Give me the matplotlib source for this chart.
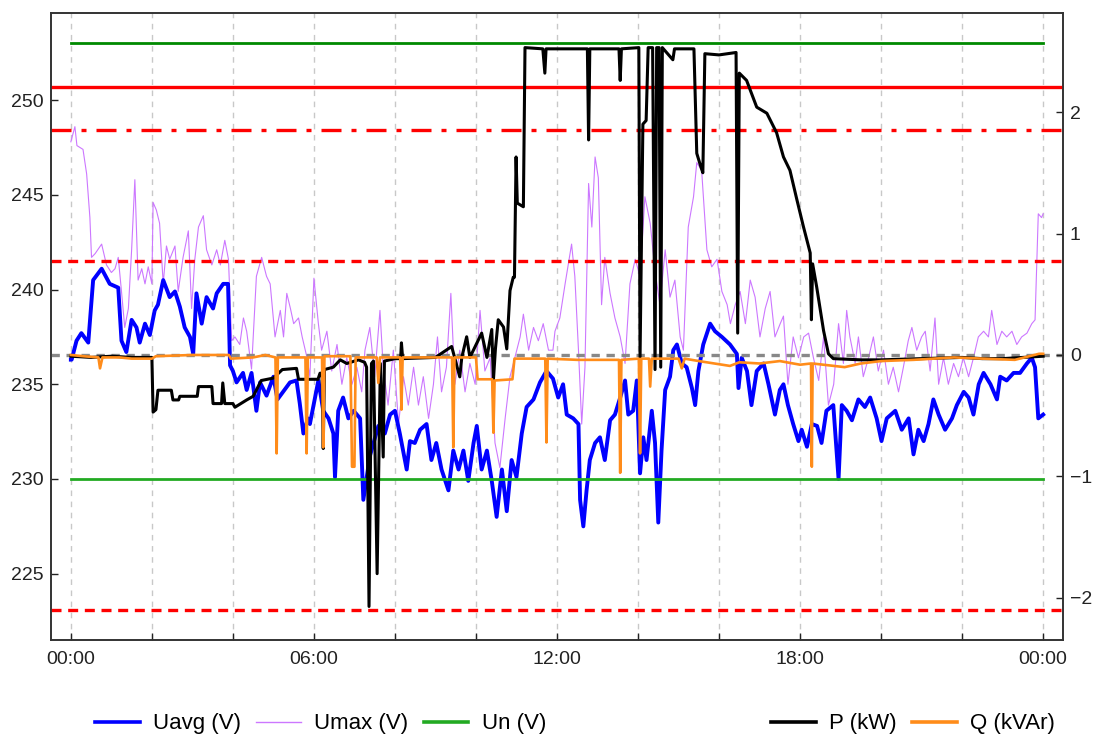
import matplotlib.pyplot as plt
from matplotlib.lines import Line2D

plt.rcParams['font.family'] = ['Liberation Sans', 'DejaVu Sans']

# Uavg (V): time in hours, value in volts
uavg_t = [0.0, 0.02, 0.14, 0.26, 0.43, 0.55, 0.76, 0.96, 1.17, 1.25, 1.37, 1.5, 1.62, 1.7, 1.83, 1.95,
          2.07, 2.15, 2.28, 2.44, 2.57, 2.69, 2.81, 2.94, 3.02, 3.1, 3.23, 3.35, 3.51, 3.6, 3.76, 3.88,
          3.93, 4.0, 4.09, 4.25, 4.34, 4.46, 4.58, 4.67, 4.83, 5.0, 5.1, 5.41, 5.57, 5.65, 5.74, 5.85,
          5.9, 6.02, 6.11, 6.23, 6.36, 6.48, 6.52, 6.6, 6.72, 6.85, 6.98, 7.14, 7.22, 7.38, 7.59, 7.75,
          7.88, 8.0, 8.12, 8.29, 8.37, 8.49, 8.62, 8.78, 8.9, 9.02, 9.15, 9.32, 9.44, 9.57, 9.69, 9.81,
          9.94, 10.02, 10.14, 10.27, 10.39, 10.51, 10.64, 10.76, 10.88, 11.0, 11.13, 11.25, 11.42, 11.58,
          11.74, 11.9, 12.03, 12.15, 12.24, 12.4, 12.53, 12.57, 12.65, 12.73, 12.81, 12.94, 13.06, 13.18,
          13.31, 13.43, 13.56, 13.68, 13.76, 13.88, 13.97, 14.05, 14.13, 14.21, 14.34, 14.42, 14.5, 14.58,
          14.67, 14.79, 14.87, 14.96, 15.08, 15.2, 15.33, 15.41, 15.49, 15.61, 15.78, 15.9, 16.07, 16.27,
          16.44, 16.48, 16.56, 16.69, 16.8, 16.93, 17.1, 17.22, 17.38, 17.5, 17.59, 17.7, 17.83, 17.96,
          18.04, 18.17, 18.29, 18.42, 18.53, 18.65, 18.82, 18.95, 19.03, 19.15, 19.28, 19.44, 19.6, 19.73,
          19.89, 20.01, 20.14, 20.35, 20.51, 20.68, 20.8, 20.92, 21.05, 21.17, 21.29, 21.42, 21.58, 21.75,
          21.87, 22.04, 22.16, 22.28, 22.41, 22.53, 22.7, 22.86, 22.94, 23.1, 23.27, 23.43, 23.6, 23.72,
          23.8, 23.88, 24.0]
uavg_v = [236.3, 236.3, 237.3, 237.7, 237.2, 240.5, 241.1, 240.3, 240.1, 237.3, 236.7, 238.4, 238.0, 237.2, 238.2, 237.6,
          238.9, 239.2, 240.5, 239.6, 239.9, 239.1, 238.0, 237.5, 236.6, 239.8, 238.2, 239.6, 239.0, 239.8, 240.3, 240.3,
          236.0, 235.7, 235.1, 235.6, 234.7, 235.6, 233.6, 235.1, 234.4, 235.4, 234.2, 235.1, 235.2, 234.0, 232.4, 233.2,
          232.9, 234.2, 235.2, 233.6, 233.2, 232.4, 230.1, 233.6, 234.3, 233.2, 233.6, 233.2, 228.9, 231.2, 232.8, 232.4,
          233.4, 233.6, 232.4, 230.5, 232.0, 231.9, 232.6, 232.9, 231.0, 231.9, 230.5, 229.4, 231.5, 230.5, 231.5, 229.9,
          231.9, 232.8, 230.5, 231.5, 229.9, 228.0, 230.5, 228.3, 231.0, 230.1, 232.4, 233.8, 234.2, 235.1,
          235.7, 235.3, 234.3, 235.0, 233.4, 233.2, 232.9, 228.9, 227.5, 229.4, 231.0, 231.9, 232.2, 231.0,
          233.1, 233.4, 234.3, 235.2, 233.4, 233.6, 235.2, 230.3, 232.2, 231.0, 233.6, 231.9, 227.7, 231.5,
          234.7, 235.4, 236.8, 237.1, 236.1, 235.9, 234.8, 233.9, 235.7, 237.1, 238.2, 237.8, 237.5, 237.1,
          236.6, 234.8, 236.4, 235.7, 233.9, 235.7, 236.1, 235.0, 233.4, 234.7, 235.0, 233.9, 232.9, 232.0,
          232.6, 231.7, 232.9, 232.8, 231.9, 233.6, 233.9, 230.0, 233.9, 233.6, 233.1, 234.2, 233.8, 234.3,
          233.2, 232.0, 233.2, 233.6, 232.6, 233.2, 231.3, 232.6, 232.0, 232.9, 234.2, 233.4, 232.6, 233.2,
          233.9, 234.6, 234.3, 233.4, 235.0, 235.6, 235.0, 234.2, 235.4, 235.2, 235.6, 235.6, 236.1, 236.4,
          235.9, 233.2, 233.4]

# Umax (V)
umax_t = [0.0, 0.1, 0.15, 0.3, 0.39, 0.47, 0.51, 0.6, 0.76, 0.88, 1.0, 1.09, 1.17, 1.25, 1.33, 1.42, 1.5, 1.58,
          1.66, 1.75, 1.83, 1.91, 2.0, 2.03, 2.11, 2.19, 2.28, 2.36, 2.44, 2.57, 2.65, 2.77, 2.9, 2.98, 3.06,
          3.15, 3.27, 3.35, 3.48, 3.6, 3.69, 3.8, 3.89, 3.97, 4.05, 4.17, 4.26, 4.34, 4.46, 4.58, 4.71, 4.83,
          4.92, 5.04, 5.17, 5.25, 5.33, 5.42, 5.5, 5.62, 5.71, 5.83, 5.9, 6.0, 6.11, 6.19, 6.32, 6.44, 6.57,
          6.69, 6.81, 6.94, 7.06, 7.18, 7.26, 7.38, 7.5, 7.63, 7.71, 7.83, 7.96, 8.09, 8.21, 8.33, 8.46, 8.58,
          8.7, 8.83, 8.95, 9.05, 9.15, 9.27, 9.38, 9.48, 9.6, 9.73, 9.85, 9.98, 10.1, 10.22, 10.35, 10.47,
          10.59, 10.72, 10.84, 10.96, 11.09, 11.17, 11.3, 11.42, 11.54, 11.66, 11.79, 11.9, 11.95, 12.07,
          12.2, 12.36, 12.44, 12.53, 12.61, 12.69, 12.78, 12.86, 12.94, 13.02, 13.1, 13.18, 13.31, 13.43,
          13.56, 13.68, 13.8, 13.93, 14.05, 14.17, 14.3, 14.42, 14.54, 14.67, 14.79, 14.91, 15.04, 15.12,
          15.24, 15.37, 15.45, 15.57, 15.7, 15.82, 15.95, 16.07, 16.2, 16.28, 16.4, 16.52, 16.65, 16.77,
          16.89, 17.01, 17.14, 17.26, 17.38, 17.51, 17.59, 17.7, 17.83, 17.96, 18.09, 18.21, 18.33, 18.46,
          18.58, 18.7, 18.83, 18.95, 19.07, 19.15, 19.23, 19.36, 19.44, 19.56, 19.69, 19.81, 19.93, 20.06,
          20.18, 20.3, 20.43, 20.55, 20.67, 20.76, 20.88, 21.0, 21.09, 21.21, 21.33, 21.42, 21.54, 21.66,
          21.79, 21.91, 22.03, 22.16, 22.28, 22.4, 22.53, 22.65, 22.73, 22.86, 22.98, 23.1, 23.23, 23.35,
          23.47, 23.6, 23.72, 23.8, 23.88, 23.96, 24.0]
umax_v = [247.8, 248.6, 247.6, 247.4, 246.1, 243.8, 241.7, 241.9, 242.4, 241.3, 240.9, 241.1, 241.7, 239.9, 238.0, 239.0, 242.1, 245.8,
          240.5, 241.1, 240.3, 241.2, 240.3, 244.6, 244.2, 243.5, 240.3, 242.3, 241.6, 242.3, 239.9, 241.7, 243.1, 239.0, 241.6,
          243.3, 243.9, 242.1, 241.3, 242.1, 241.3, 242.6, 241.6, 237.3, 237.5, 237.1, 238.5, 237.8, 235.8, 240.7, 241.7, 240.7,
          240.3, 237.5, 238.9, 237.5, 239.8, 239.0, 238.2, 238.5, 237.5, 236.4, 235.4, 240.6, 238.2, 236.8, 237.8, 235.7, 237.1,
          235.0, 236.4, 235.0, 235.9, 234.6, 236.8, 238.0, 235.4, 238.9, 235.9, 233.9, 236.8, 232.9, 235.4, 233.9, 235.9, 233.9,
          235.4, 233.2, 235.0, 237.5, 234.6, 235.9, 239.8, 235.0, 236.8, 234.6, 236.1, 235.0, 238.9, 235.7, 236.4, 231.9,
          230.6, 233.2, 235.4, 236.4, 237.5, 238.7, 236.8, 238.0, 237.3, 238.2, 236.8, 236.8, 237.8, 238.5,
          240.3, 242.4, 240.7, 236.8, 232.9, 235.9, 245.6, 243.3, 247.0, 245.9, 239.2, 241.7, 239.8, 238.5,
          237.5, 236.1, 240.3, 241.6, 240.7, 244.9, 243.5, 241.0, 239.2, 242.1, 239.6, 240.5, 237.5, 236.8,
          243.3, 244.9, 246.7, 246.3, 242.1, 241.2, 241.6, 239.9, 239.2, 238.2, 239.2, 239.9, 238.2, 240.5,
          239.6, 237.5, 239.0, 239.9, 237.5, 238.2, 238.6, 235.0, 237.5, 236.4, 237.5, 237.7, 236.4, 235.2,
          237.5, 233.9, 235.0, 238.2, 236.1, 238.9, 237.5, 236.1, 237.5, 235.4, 236.4, 237.5, 235.7, 236.8,
          235.0, 235.9, 234.6, 235.9, 237.3, 238.0, 236.8, 237.5, 237.8, 235.7, 238.5, 235.0, 236.4, 235.0,
          236.1, 235.4, 236.4, 235.4, 236.4, 237.5, 237.8, 237.5, 238.9, 237.1, 237.8, 237.5, 237.8, 237.1,
          237.5, 237.7, 238.2, 238.4, 244.0, 243.8, 244.0]

# P (kW), right axis
p_t = [0.0, 0.5, 1.0, 1.5, 2.0, 2.03, 2.1, 2.15, 2.48, 2.52, 2.66, 2.69, 3.12, 3.15, 3.48, 3.51, 3.72, 3.75, 3.8,
       4.0, 4.05, 4.34, 4.5, 4.7, 5.0, 5.22, 5.57, 5.62, 6.1, 6.15, 6.2, 6.23, 6.26, 6.48, 6.65, 6.81, 7.1,
       7.25, 7.3, 7.36, 7.42, 7.47, 7.56, 7.64, 7.71, 7.74, 8.0, 8.14, 8.16, 8.19, 9.0, 9.4, 9.6, 9.65, 9.77,
       9.85, 10.14, 10.27, 10.39, 10.43, 10.48, 10.55, 10.68, 10.76, 10.84, 10.92, 10.95, 10.99, 11.02, 11.17,
       11.21, 11.65, 11.7, 11.73, 12.75, 12.78, 12.81, 13.53, 13.56, 13.59, 14.02, 14.05, 14.12, 14.2, 14.25,
       14.36, 14.42, 14.46, 14.52, 14.56, 14.6, 14.86, 14.9, 15.38, 15.45, 15.55, 15.6, 15.65, 16.0, 16.42,
       16.46, 16.5, 16.68, 16.93, 17.18, 17.42, 17.59, 17.75, 17.92, 18.08, 18.25, 18.28, 18.31, 18.41, 18.58,
       18.7, 18.82, 19.5, 20.0, 21.0, 22.0, 22.5, 23.0, 23.5, 24.0]
p_v = [-0.01, -0.02, -0.01, -0.02, -0.02, -0.47, -0.45, -0.29, -0.29, -0.37, -0.37, -0.34, -0.34, -0.26, -0.26, -0.40, -0.40, -0.23, -0.40,
       -0.40, -0.43, -0.37, -0.34, -0.21, -0.19, -0.12, -0.11, -0.20, -0.20, -0.15, -0.15, -0.77, -0.12, -0.10, -0.04, -0.07, -0.04,
       -0.06, -0.10, -2.07, -0.07, -0.05, -1.80, -0.07, -0.84, -0.05, -0.03, -0.03, 0.10, -0.03, -0.02, 0.07, -0.18, -0.02, 0.15,
       -0.02, 0.18, -0.02, 0.21, -0.21, 0.05, 0.29, 0.23, 0.05, 0.53, 0.64, 0.64, 1.63, 1.25, 1.22,
       2.53, 2.52, 2.32, 2.52, 2.52, 1.77, 2.52, 2.52, 2.26, 2.52, 2.53, -0.02, 1.90, 1.93, 2.53,
       2.53, -0.12, 2.53, 2.53, -0.10, 2.53, 2.43, 2.52, 2.52, 1.66, 1.55, 1.50, 2.48, 2.47, 2.49,
       0.18, 2.32, 2.26, 2.04, 1.99, 1.83, 1.63, 1.52, 1.28, 1.06, 0.84, 0.29, 0.75, 0.56, 0.20,
       0.01, -0.03, -0.04, -0.04, -0.03, -0.02, -0.03, -0.03, -0.02, -0.01]

# Q (kVAr), right axis
q_t = [0.0, 0.3, 0.68, 0.72, 0.78, 1.2, 1.5, 2.0, 2.1, 3.0, 3.9, 3.95, 4.5, 4.8, 5.05, 5.08, 5.11, 5.79, 5.82,
       5.85, 6.2, 6.23, 6.26, 6.9, 6.94, 7.0, 7.03, 7.55, 7.59, 7.63, 8.13, 8.16, 8.19, 9.41, 9.44, 9.47, 10.0,
       10.04, 10.4, 10.43, 10.46, 10.9, 10.95, 11.71, 11.74, 11.77, 12.5, 13.0, 13.53, 13.56, 13.59, 14.02,
       14.05, 14.08, 14.27, 14.3, 14.34, 15.0, 15.08, 15.15, 15.5, 16.27, 16.5, 17.0, 17.5, 18.0, 18.27, 18.29,
       18.31, 19.1, 19.5, 20.0, 20.8, 21.8, 22.5, 23.3, 23.9, 24.0]
q_v = [0.0, -0.01, -0.02, -0.11, -0.02, -0.02, -0.03, -0.03, -0.01, 0.0, 0.0, -0.03, -0.02, 0.0, -0.02, -0.81, -0.02, -0.02, -0.81,
       -0.02, -0.02, -0.76, -0.01, -0.01, -0.92, -0.92, -0.02, -0.02, -0.23, -0.02, -0.02, -0.45, -0.02, -0.02, -0.76, -0.02, -0.02,
       -0.20, -0.20, -0.64, -0.21, -0.20, -0.03, -0.03, -0.72, -0.03, -0.04, -0.04, -0.04, -0.97, -0.04, -0.03,
       -0.81, -0.03, -0.03, -0.26, -0.03, -0.03, -0.11, -0.03, -0.05, -0.09, -0.06, -0.07, -0.05, -0.08, -0.07, -0.92,
       -0.07, -0.10, -0.07, -0.05, -0.04, -0.02, -0.03, -0.04, 0.01, 0.01]

# voltage limits (V)
un_level = 230.0
un_upper = 253.0
red_solid = 250.7
red_dashdot = 248.4
red_dashed = [241.5, 223.1]

day = [0, 24]
tick_hours = list(range(0, 25, 2))
tick_labels = ['00:00' if h in (0, 24) else (f'{h:02d}:00' if h % 6 == 0 else '') for h in tick_hours]

fig = plt.figure(figsize=(10.94, 7.38), dpi=100)
ax = fig.add_axes([51 / 1094, 1 - 640 / 738, (1063 - 51) / 1094, (640 - 13) / 738])
ax2 = ax.twinx()

blue = '#0000ff'
violet = '#cc77ff'
green = '#22aa22'
dkgreen = '#008a00'
red = '#ff0000'
orange = '#ff8c1a'

ax.plot(umax_t, umax_v, color=violet, lw=0.8, zorder=2)
ax.plot(uavg_t, uavg_v, color=blue, lw=2.8, zorder=3)
ax.plot(day, [un_level, un_level], color=green, lw=2.0, zorder=4)
ax.plot(day, [un_upper, un_upper], color=dkgreen, lw=2.0, zorder=4)
ax.axhline(red_solid, color=red, lw=2.4, zorder=4)
ax.axhline(red_dashdot, color=red, lw=2.4, dashes=(6, 3, 1.5, 3), zorder=4)
for lvl in red_dashed:
    ax.axhline(lvl, color=red, lw=2.4, dashes=(3, 2), zorder=4)

ax2.axhline(0, color='#888888', lw=2.4, dashes=(2.5, 2), zorder=1)
ax2.plot(p_t, p_v, color='black', lw=2.2, zorder=2)
ax2.plot(q_t, q_v, color=orange, lw=1.9, zorder=3)

ax.set_xlim(-0.49, 24.49)
ax.set_ylim(221.5, 254.6)
ax2.set_ylim(-2.346, 2.815)
ax.set_yticks([225, 230, 235, 240, 245, 250])
ax2.set_yticks([-2, -1, 0, 1, 2])
ax.set_xticks(tick_hours)
ax.set_xticklabels(tick_labels)
ax.grid(axis='x', color='#c8c8c8', lw=1.0, dashes=(4, 4))
ax.set_axisbelow(True)

for a in (ax, ax2):
    a.tick_params(direction='in', length=5, width=1, labelsize=14, colors='#222222')
    for s in a.spines.values():
        s.set_color('#333333')
        s.set_linewidth(1.2)
ax.tick_params(axis='x', pad=8)
ax.tick_params(axis='y', pad=5)
ax2.tick_params(axis='y', pad=5)

left_handles = [Line2D([], [], color=blue, lw=2.6),
                Line2D([], [], color=violet, lw=1.0),
                Line2D([], [], color=green, lw=2.6)]
right_handles = [Line2D([], [], color='black', lw=2.6),
                 Line2D([], [], color=orange, lw=2.6)]
fig.legend(left_handles, ['Uavg (V)', 'Umax (V)', 'Un (V)'], loc='center left',
           bbox_to_anchor=(84 / 1094, 1 - 724 / 738), ncol=3, frameon=False, fontsize=16,
           borderpad=0, handlelength=2.0, handletextpad=0.6, columnspacing=0.7)
fig.legend(right_handles, ['P (kW)', 'Q (kVAr)'], loc='center right',
           bbox_to_anchor=(1066 / 1094, 1 - 724 / 738), ncol=2, frameon=False, fontsize=16,
           borderpad=0, handlelength=2.0, handletextpad=0.6, columnspacing=0.7)

fig.savefig('out.png', dpi=100)
